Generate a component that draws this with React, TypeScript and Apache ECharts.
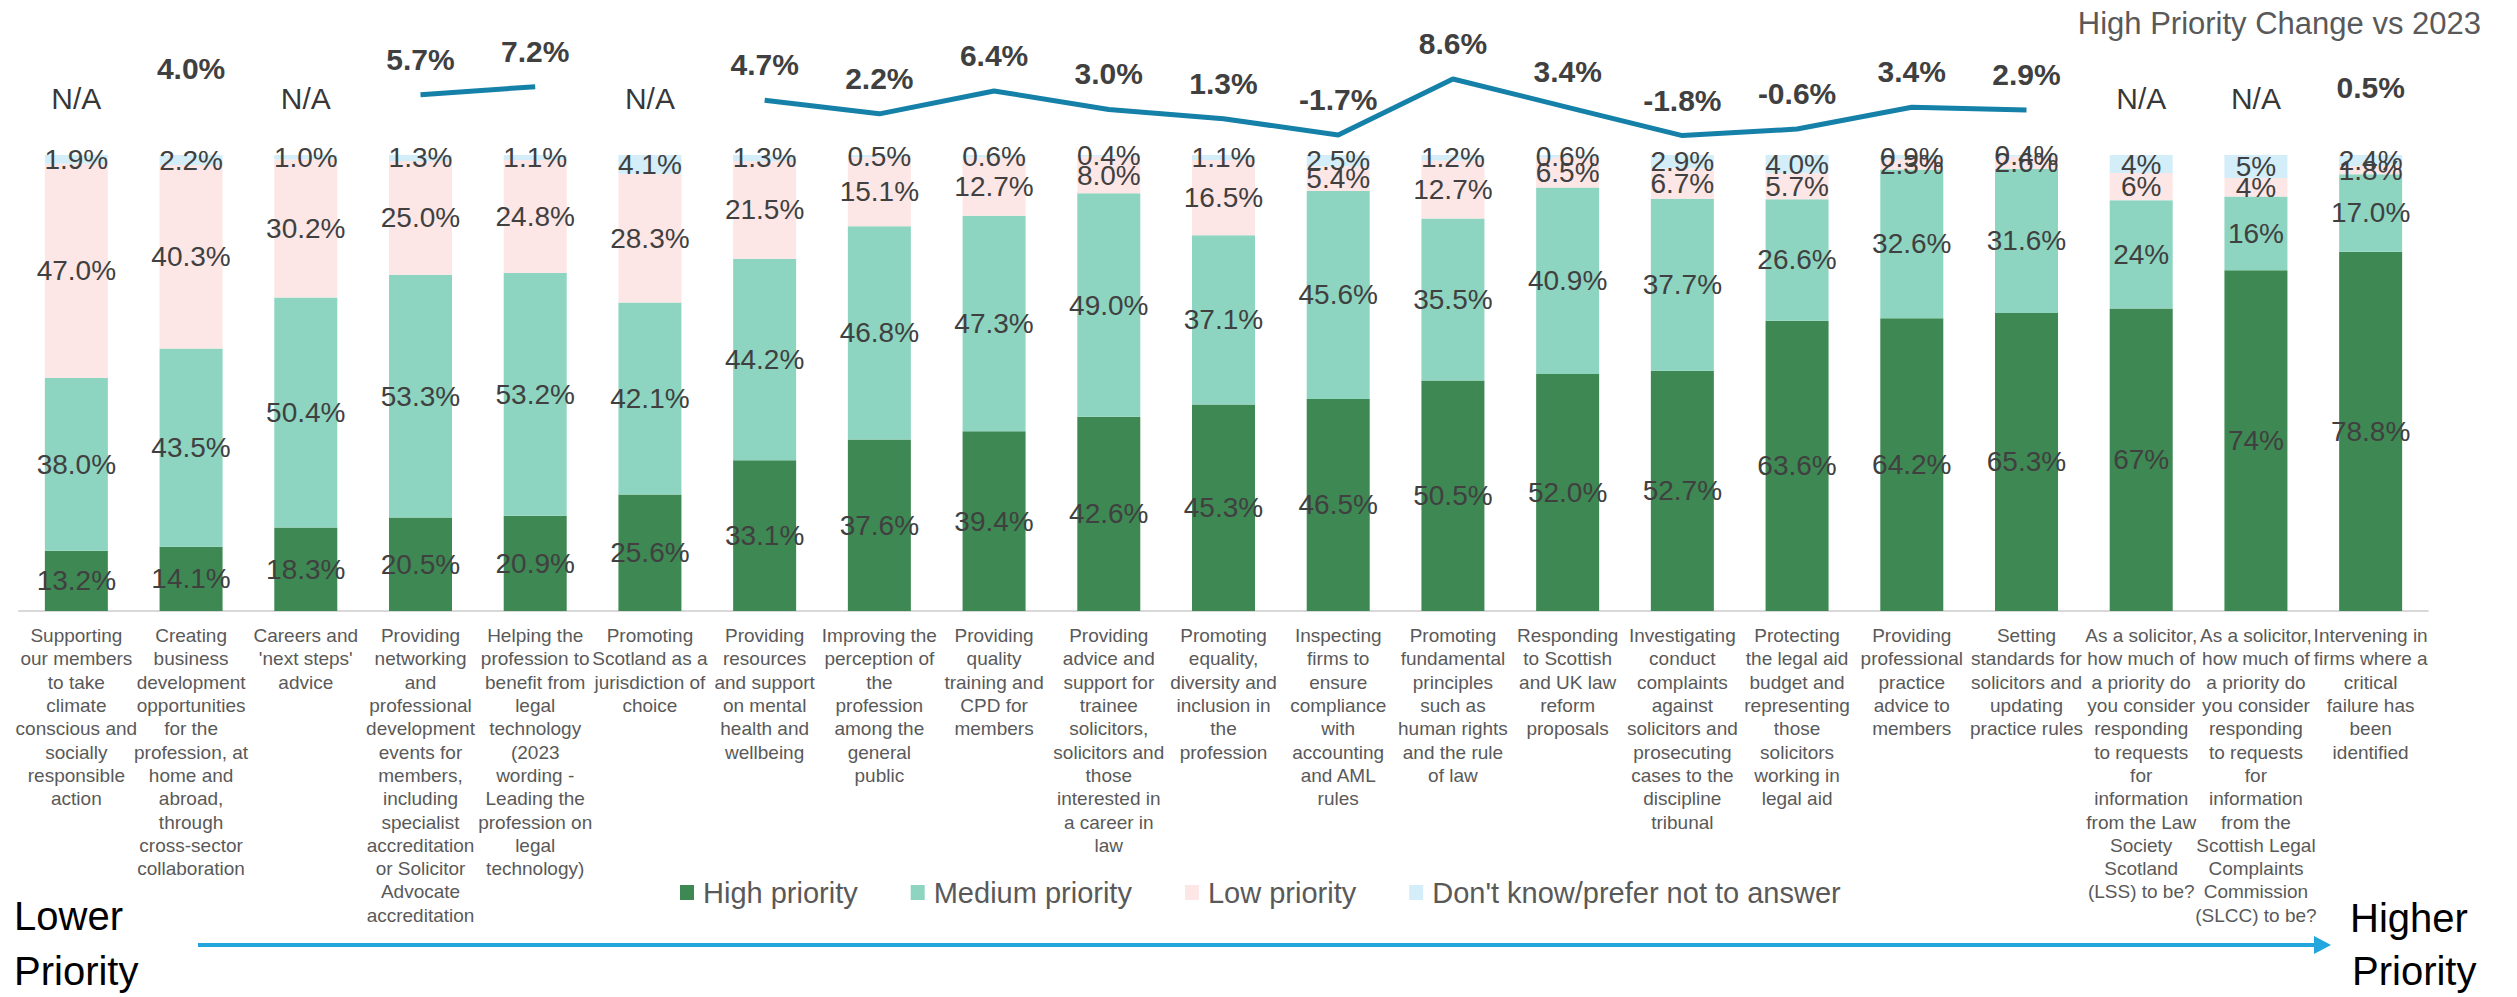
import React, { useEffect, useRef } from "react";
import * as echarts from "echarts";

const categories = [
  "Supporting\nour members\nto take\nclimate\nconscious and\nsocially\nresponsible\naction",
  "Creating\nbusiness\ndevelopment\nopportunities\nfor the\nprofession, at\nhome and\nabroad,\nthrough\ncross-sector\ncollaboration",
  "Careers and\n'next steps'\nadvice",
  "Providing\nnetworking\nand\nprofessional\ndevelopment\nevents for\nmembers,\nincluding\nspecialist\naccreditation\nor Solicitor\nAdvocate\naccreditation",
  "Helping the\nprofession to\nbenefit from\nlegal\ntechnology\n(2023\nwording -\nLeading the\nprofession on\nlegal\ntechnology)",
  "Promoting\nScotland as a\njurisdiction of\nchoice",
  "Providing\nresources\nand support\non mental\nhealth and\nwellbeing",
  "Improving the\nperception of\nthe\nprofession\namong the\ngeneral\npublic",
  "Providing\nquality\ntraining and\nCPD for\nmembers",
  "Providing\nadvice and\nsupport for\ntrainee\nsolicitors,\nsolicitors and\nthose\ninterested in\na career in\nlaw",
  "Promoting\nequality,\ndiversity and\ninclusion in\nthe\nprofession",
  "Inspecting\nfirms to\nensure\ncompliance\nwith\naccounting\nand AML\nrules",
  "Promoting\nfundamental\nprinciples\nsuch as\nhuman rights\nand the rule\nof law",
  "Responding\nto Scottish\nand UK law\nreform\nproposals",
  "Investigating\nconduct\ncomplaints\nagainst\nsolicitors and\nprosecuting\ncases to the\ndiscipline\ntribunal",
  "Protecting\nthe legal aid\nbudget and\nrepresenting\nthose\nsolicitors\nworking in\nlegal aid",
  "Providing\nprofessional\npractice\nadvice to\nmembers",
  "Setting\nstandards for\nsolicitors and\nupdating\npractice rules",
  "As a solicitor,\nhow much of\na priority do\nyou consider\nresponding\nto requests\nfor\ninformation\nfrom the Law\nSociety\nScotland\n(LSS) to be?",
  "As a solicitor,\nhow much of\na priority do\nyou consider\nresponding\nto requests\nfor\ninformation\nfrom the\nScottish Legal\nComplaints\nCommission\n(SLCC) to be?",
  "Intervening in\nfirms where a\ncritical\nfailure has\nbeen\nidentified",
];

const highPriority = [13.2, 14.1, 18.3, 20.5, 20.9, 25.6, 33.1, 37.6, 39.4, 42.6, 45.3, 46.5, 50.5, 52.0, 52.7, 63.6, 64.2, 65.3, 67, 74, 78.8];
const mediumPriority = [38.0, 43.5, 50.4, 53.3, 53.2, 42.1, 44.2, 46.8, 47.3, 49.0, 37.1, 45.6, 35.5, 40.9, 37.7, 26.6, 32.6, 31.6, 24, 16, 17.0];
const lowPriority = [47.0, 40.3, 30.2, 25.0, 24.8, 28.3, 21.5, 15.1, 12.7, 8.0, 16.5, 5.4, 12.7, 6.5, 6.7, 5.7, 2.3, 2.6, 6, 4, 1.8];
const dontKnow = [1.9, 2.2, 1.0, 1.3, 1.1, 4.1, 1.3, 0.5, 0.6, 0.4, 1.1, 2.5, 1.2, 0.6, 2.9, 4.0, 0.9, 0.4, 4, 5, 2.4];
const labelDecimals = [1, 1, 1, 1, 1, 1, 1, 1, 1, 1, 1, 1, 1, 1, 1, 1, 1, 1, 0, 0, 1];

const changeVs2023: (number | null)[] = [null, 4.0, null, 5.7, 7.2, null, 4.7, 2.2, 6.4, 3.0, 1.3, -1.7, 8.6, 3.4, -1.8, -0.6, 3.4, 2.9, null, null, 0.5];

const seriesNames = ["High priority", "Medium priority", "Low priority", "Don't know/prefer not to answer"];
const NA_TEXT = "N/A";
const NA_LEVEL = 5.0;

export default function App() {
  const ref = useRef<HTMLDivElement>(null);

  useEffect(() => {
    const chart = echarts.init(ref.current!, null, { renderer: "svg" });
    const FONT = "'Liberation Sans', Arial, sans-serif";
    const totals = highPriority.map((h, i) => h + mediumPriority[i] + lowPriority[i] + dontKnow[i]);
    const norm = (arr: number[]) => arr.map((v, i) => (v / totals[i]) * 100);
    const colors = ["#3E8853", "#8DD5C0", "#FDE6E6", "#D3EEF8"];
    const arrs = [highPriority, mediumPriority, lowPriority, dontKnow];

    const barSeries = arrs.map((arr, k) => ({
      name: seriesNames[k],
      type: "bar",
      stack: "total",
      xAxisIndex: 0,
      yAxisIndex: 0,
      barWidth: 63,
      data: norm(arr),
      itemStyle: { color: colors[k] },
      label: {
        show: true,
        position: "inside",
        color: "#404040",
        fontSize: 28,
        fontFamily: FONT,
        formatter: (p: any) => arr[p.dataIndex].toFixed(labelDecimals[p.dataIndex]) + "%",
      },
    }));

    chart.setOption({
      animation: false,
      backgroundColor: "#ffffff",
      title: {
        text: "High Priority Change vs 2023",
        right: 36,
        top: 8,
        padding: 0,
        textStyle: { fontSize: 31, fontWeight: "normal", color: "#595959", fontFamily: FONT },
      },
      legend: {
        data: seriesNames,
        left: 675,
        top: 873,
        itemWidth: 14,
        itemHeight: 15,
        itemGap: 53,
        icon: "rect",
        selectedMode: false,
        textStyle: { fontSize: 29, color: "#595959", fontFamily: FONT, padding: [0, 0, 0, 4] },
      },
      grid: [
        { left: 19, right: 89, top: 155, bottom: 386 },
        { left: 19, right: 89, top: 44.2, height: 108.8 },
      ],
      xAxis: [
        {
          type: "category",
          gridIndex: 0,
          data: categories,
          axisTick: { show: false },
          axisLine: { lineStyle: { color: "#D9D9D9", width: 2 } },
          axisLabel: {
            interval: 0,
            fontSize: 19,
            lineHeight: 23.3,
            color: "#595959",
            margin: 13,
            fontFamily: FONT,
            align: "center",
          },
        },
        { type: "category", gridIndex: 1, data: categories, show: false },
      ],
      yAxis: [
        { type: "value", gridIndex: 0, min: 0, max: 100, show: false, splitLine: { show: false } },
        { type: "value", gridIndex: 1, min: -5, max: 15, show: false, splitLine: { show: false } },
      ],
      series: [
        ...barSeries,
        {
          name: "High Priority Change vs 2023",
          type: "line",
          xAxisIndex: 1,
          yAxisIndex: 1,
          data: changeVs2023.map((v) => (v === null ? "-" : v)),
          connectNulls: false,
          symbol: "circle",
          symbolSize: 1,
          showSymbol: true,
          itemStyle: { color: "transparent" },
          lineStyle: { color: "#1580A8", width: 5 },
          label: {
            show: true,
            position: "top",
            distance: 20,
            fontSize: 30,
            fontWeight: "bold",
            color: "#404040",
            fontFamily: FONT,
            formatter: (p: any) => Number(p.value).toFixed(1) + "%",
          },
          silent: true,
        },
        {
          name: "na",
          type: "scatter",
          xAxisIndex: 1,
          yAxisIndex: 1,
          data: changeVs2023.map((v) => (v === null ? NA_LEVEL : "-")),
          symbol: "circle",
          symbolSize: 1,
          itemStyle: { color: "transparent" },
          label: {
            show: true,
            position: "inside",
            formatter: NA_TEXT,
            fontSize: 30,
            color: "#000000",
            fontFamily: FONT,
          },
          silent: true,
        },
      ],
      graphic: [
        { type: "text", left: 14, top: 896, style: { text: "Lower", fontSize: 40, fill: "#000", fontFamily: FONT } },
        { type: "text", left: 14, top: 951, style: { text: "Priority", fontSize: 40, fill: "#000", fontFamily: FONT } },
        { type: "text", left: 2350, top: 898, style: { text: "Higher", fontSize: 40, fill: "#000", fontFamily: FONT } },
        { type: "text", left: 2352, top: 951, style: { text: "Priority", fontSize: 40, fill: "#000", fontFamily: FONT } },
        { type: "line", shape: { x1: 198, y1: 945, x2: 2318, y2: 945 }, style: { stroke: "#22A6DD", lineWidth: 4 } },
        { type: "polygon", shape: { points: [[2314, 936], [2331, 945], [2314, 954]] }, style: { fill: "#22A6DD" } },
      ],
    });

    return () => chart.dispose();
  }, []);

  return <div ref={ref} style={{ position: "fixed", left: 0, top: 0, width: 2517, height: 997 }} />;
}
